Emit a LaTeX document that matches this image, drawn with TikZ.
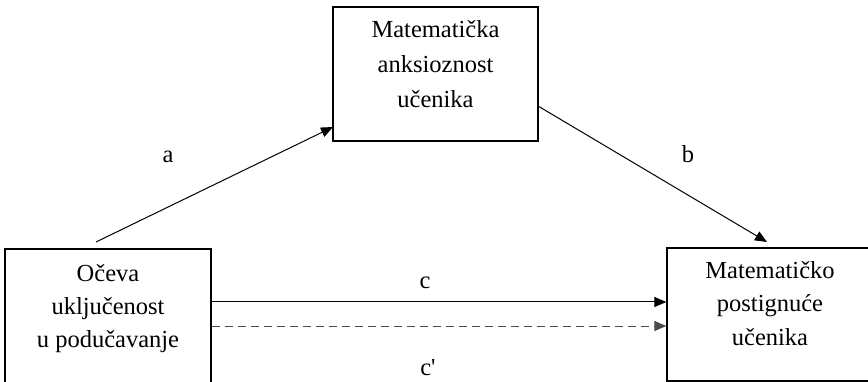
\documentclass[tikz,border=0pt]{standalone}
\usepackage{fontspec}
\setmainfont{Liberation Serif}
\usetikzlibrary{arrows.meta,calc}
\begin{document}
\begin{tikzpicture}[x=1pt,y=-1pt,
  boxst/.style={draw, line width=1.3pt, inner sep=0pt},
  txt/.style={align=center, anchor=north, inner sep=0pt, font=\fontsize{24.5}{34}\selectfont},
  lab/.style={anchor=base, inner sep=0pt, font=\fontsize{24.5}{34}\selectfont},
  arr/.style={line width=1pt, -{Triangle[length=12pt,width=10pt]}},
  darr/.style={arr, draw=black!70, dash pattern=on 8pt off 5pt}]
\useasboundingbox (0,0) rectangle (868,382);
\clip (0,0) rectangle (868,382);
% boxes
\node[boxst, minimum width=205pt, minimum height=134pt] (top) at (435.5,74) {};
\node[boxst, minimum width=206pt, minimum height=141pt] (left) at (108,319.5) {};
\node[boxst, minimum width=206pt, minimum height=133pt] (right) at (770,314.5) {};
% texts
\node[txt, font=\fontsize{24.5}{35}\selectfont] (toptxt) at (435.5,17) {\rule{0pt}{20pt}Matematička\\anksioznost\\učenika};
\node[txt, font=\fontsize{24.5}{33}\selectfont] (lefttxt) at (108,261) {\rule{0pt}{20pt}Očeva\\uključenost\\u podučavanje};
\node[txt, font=\fontsize{24.5}{33.5}\selectfont] (righttxt) at (770,258) {\rule{0pt}{20pt}Matematičko\\postignuće\\učenika};
% connector ends
\coordinate (aS) at (96,242);
\coordinate (aE) at (333,127);
\coordinate (bS) at (538,106);
\coordinate (bE) at (767,242);
\coordinate (cY) at (0,302);
\coordinate (dY) at (0,326);
% connectors
\draw[arr] (aS) -- (aE);
\draw[arr] (bS) -- (bE);
\draw[arr] (left.east |- cY) -- (right.west |- cY);
\draw[darr] (left.east |- dY) -- (right.west |- dY);
% labels
\node[lab] (la) at (168,163) {a};
\node[lab] (lb) at (688,163) {b};
\node[lab] (lc) at (425,289) {c};
\node[lab] (lcp) at (428,375) {c\textquotesingle};
\end{tikzpicture}
\end{document}
